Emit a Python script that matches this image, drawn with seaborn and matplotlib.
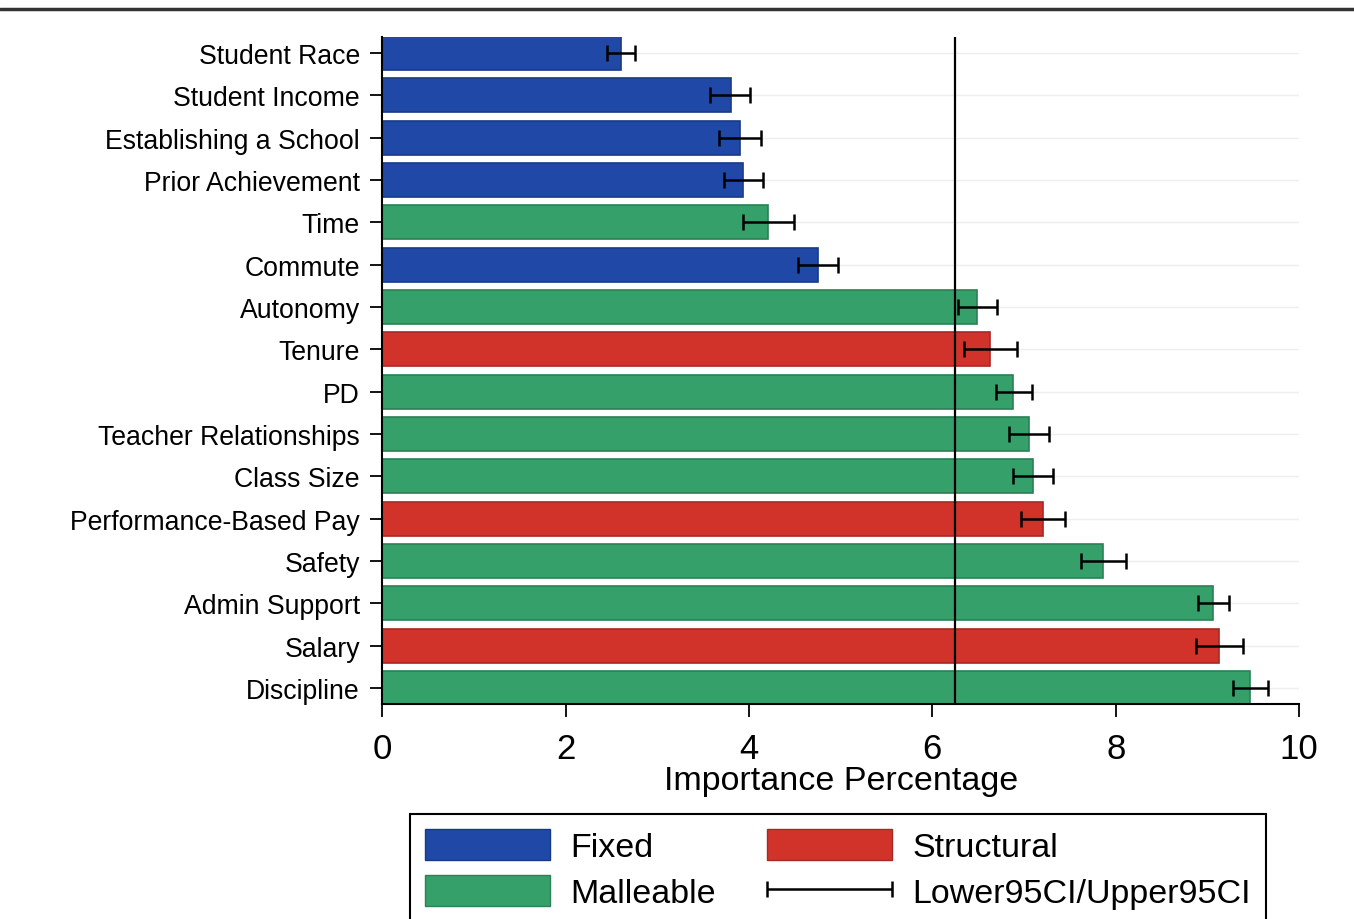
import numpy as np
import pandas as pd
import seaborn as sns
import matplotlib.pyplot as plt
from matplotlib.patches import Patch
from matplotlib.lines import Line2D
from matplotlib.legend_handler import HandlerErrorbar
from matplotlib.container import ErrorbarContainer
import matplotlib.colors as mcolors

factors = ["Student Race", "Student Income", "Establishing a School", "Prior Achievement",
           "Time", "Commute", "Autonomy", "Tenure", "PD", "Teacher Relationships",
           "Class Size", "Performance-Based Pay", "Safety", "Admin Support", "Salary", "Discipline"]
types = ["Fixed", "Fixed", "Fixed", "Fixed", "Malleable", "Fixed", "Malleable", "Structural",
         "Malleable", "Malleable", "Malleable", "Structural", "Malleable", "Malleable",
         "Structural", "Malleable"]
importance = [2.60, 3.80, 3.90, 3.94, 4.21, 4.75, 6.49, 6.63, 6.88, 7.05, 7.10, 7.21, 7.86, 9.06, 9.13, 9.46]
lower95 = [2.45, 3.58, 3.67, 3.73, 3.94, 4.54, 6.28, 6.35, 6.69, 6.84, 6.88, 6.97, 7.62, 8.90, 8.87, 9.28]
upper95 = [2.76, 4.01, 4.13, 4.15, 4.49, 4.97, 6.71, 6.92, 7.09, 7.27, 7.32, 7.45, 8.11, 9.23, 9.39, 9.66]
equal_share = 6.25

colors = {"Fixed": "#1f48a7", "Malleable": "#36a06b", "Structural": "#d1332b"}

df = pd.DataFrame({"factor": factors, "type": types, "imp": importance,
                   "lo": lower95, "hi": upper95})

sns.set_style("ticks")
plt.rcParams['font.family'] = ['Liberation Sans', 'DejaVu Sans']
plt.rcParams['text.color'] = 'black'
plt.rcParams['xtick.color'] = 'black'
plt.rcParams['ytick.color'] = 'black'
plt.rcParams['axes.labelcolor'] = 'black'

fig = plt.figure(figsize=(13.54, 9.2), dpi=100)
ax = fig.add_axes([0.2822, 0.2337, 0.6773, 0.725])

sns.barplot(data=df, x="imp", y="factor", hue="type", dodge=False, palette=colors,
            saturation=1, orient="h", width=0.8, legend=False, ax=ax, zorder=2)
for p in ax.patches:
    fc = mcolors.to_rgb(p.get_facecolor())
    p.set_edgecolor([c * 0.8 for c in fc])
    p.set_linewidth(1.2)

eb = ax.errorbar(df["imp"], np.arange(len(df)),
                 xerr=[df["imp"] - df["lo"], df["hi"] - df["imp"]],
                 fmt="none", ecolor="black", elinewidth=1.8, capsize=6, capthick=1.8, zorder=4,
                 label="Lower95CI/Upper95CI")

ax.axvline(equal_share, color="black", lw=1.6, zorder=3)

ax.set_xlim(0, 10)
ax.set_ylim(15.38, -0.38)
ax.set_xticks([0, 2, 4, 6, 8, 10])
ax.grid(axis="y", color="#eeeeee", lw=1)
ax.set_axisbelow(True)
sns.despine(ax=ax)
ax.spines["left"].set_linewidth(1.5)
ax.spines["bottom"].set_linewidth(1.5)
ax.spines["left"].set_color("black")
ax.spines["bottom"].set_color("black")
ax.tick_params(axis="y", labelsize=19.2, length=9, width=1.3, pad=7)
ax.tick_params(axis="x", labelsize=25, length=9.5, width=1.3, pad=11)
ax.set_ylabel("")
ax.set_xlabel("Importance Percentage", fontsize=24.5, labelpad=0)

handles = [Patch(facecolor=colors["Fixed"], edgecolor="#173a88", label="Fixed"),
           Patch(facecolor=colors["Malleable"], edgecolor="#2b8056", label="Malleable"),
           Patch(facecolor=colors["Structural"], edgecolor="#a82922", label="Structural"),
           eb]
leg = fig.legend(handles=handles, labels=["Fixed", "Malleable", "Structural", "Lower95CI/Upper95CI"],
                 ncol=2, loc="upper left", bbox_to_anchor=(0.3028, 0.1141), borderaxespad=0,
                 fontsize=24.5, handlelength=3.67, handleheight=1.0, handletextpad=0.6,
                 columnspacing=1.5, labelspacing=0.35, borderpad=0.45, fancybox=False, framealpha=1,
                 handler_map={ErrorbarContainer: HandlerErrorbar(xerr_size=1.83, yerr_size=1.1)})
leg.get_frame().set_edgecolor("black")
leg.get_frame().set_linewidth(1.5)

fig.add_artist(Line2D([0, 1], [0.989, 0.989], transform=fig.transFigure, color="#333333", lw=2.5))

fig.savefig("out.png", dpi=100)
